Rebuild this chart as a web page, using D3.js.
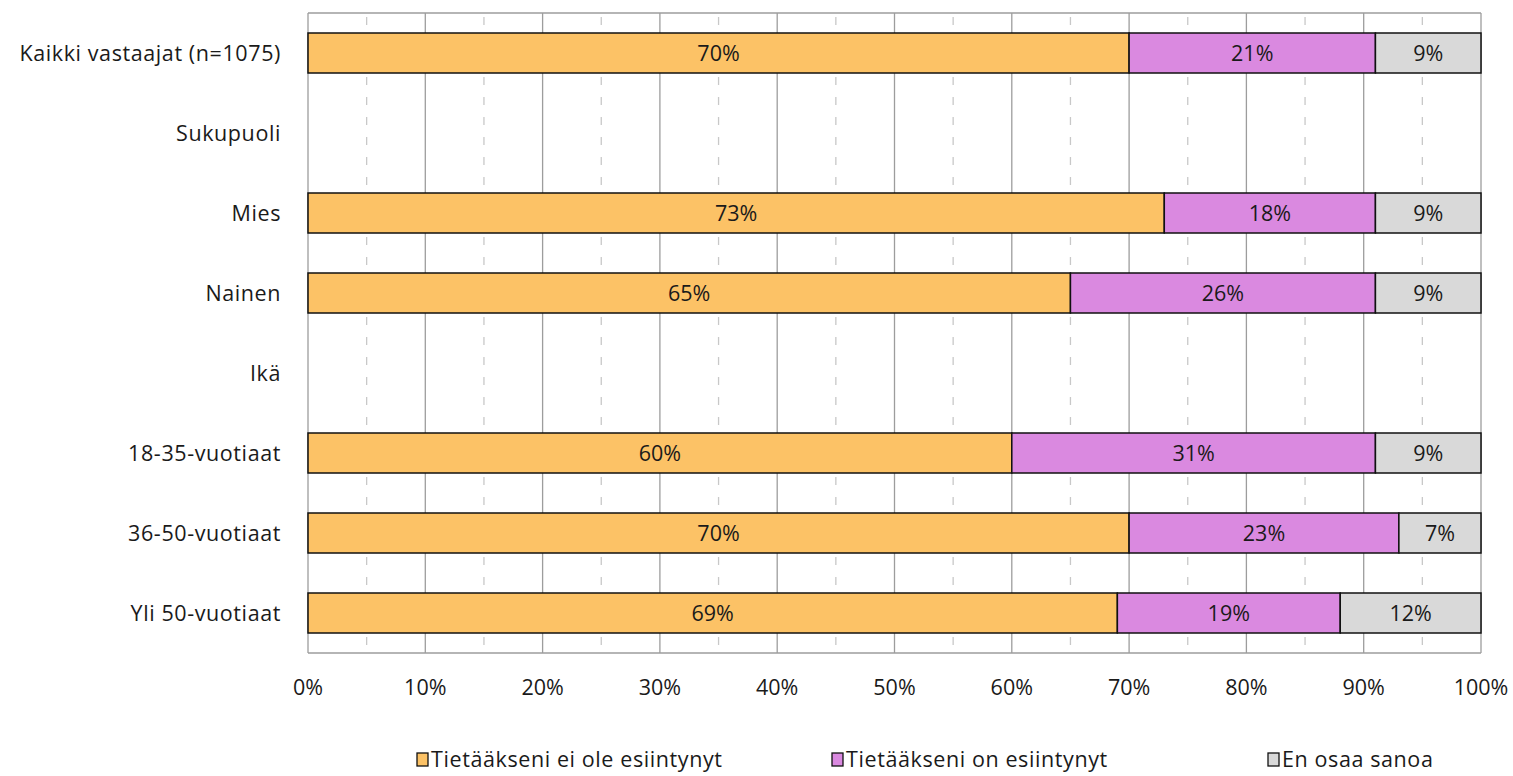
<!DOCTYPE html>
<html><head><meta charset="utf-8">
<script src="https://cdn.jsdelivr.net/npm/d3@7"></script>
<style>body{margin:0;background:#fff}svg{display:block}text{font-family:"Open Sans",sans-serif;fill:#1a1a1a}</style>
</head><body><svg id="c" width="1513" height="776"></svg>
<script>
const categories = ["Kaikki vastaajat (n=1075)","Sukupuoli","Mies","Nainen","Ikä","18-35-vuotiaat","36-50-vuotiaat","Yli 50-vuotiaat"];
const seriesNames = ["Tietääkseni ei ole esiintynyt","Tietääkseni on esiintynyt","En osaa sanoa"];
const eiOle = [70,null,73,65,null,60,70,69];
const onEsi = [21,null,18,26,null,31,23,19];
const enOsaa = [9,null,9,9,null,9,7,12];
const colors = ["#FCC266","#DA89E0","#D9D9D9"];
const xTicks = [0,10,20,30,40,50,60,70,80,90,100];

const svg = d3.select("#c");
const FS = 21.5;
const LS = "0.6px";
const L=308,R=1481,T=13,B=653;
const x = d3.scaleLinear().domain([0,100]).range([L,R]);
const y = d3.scaleBand().domain(categories).range([T,B]).paddingInner(0.5).paddingOuter(0.25);

svg.append("g").selectAll("line").data(d3.range(5,100,10)).join("line")
  .attr("x1",d=>x(d)).attr("x2",d=>x(d)).attr("y1",T).attr("y2",B)
  .attr("stroke","#c8c8c8").attr("stroke-width",1.3).attr("stroke-dasharray","8,12")
  .attr("stroke-dashoffset",-4);
svg.append("g").selectAll("line").data(xTicks).join("line")
  .attr("x1",d=>x(d)).attr("x2",d=>x(d)).attr("y1",T).attr("y2",B)
  .attr("stroke","#9d9d9d").attr("stroke-width",1.3);
svg.append("line").attr("x1",L).attr("x2",R).attr("y1",T).attr("y2",T).attr("stroke","#9d9d9d").attr("stroke-width",1.3);
svg.append("line").attr("x1",L).attr("x2",R).attr("y1",B).attr("y2",B).attr("stroke","#9d9d9d").attr("stroke-width",1.3);

const series=[eiOle,onEsi,enOsaa];
categories.forEach((c,i)=>{
  let acc=0;
  series.forEach((s,k)=>{
    const v=s[i]; if(v==null) return;
    const x0=acc, x1=acc+v; acc=x1;
    svg.append("rect").attr("x",x(x0)).attr("y",y(c)).attr("width",x(x1)-x(x0)).attr("height",y.bandwidth())
      .attr("fill",colors[k]).attr("stroke","#111").attr("stroke-width",1.5);
    svg.append("text").attr("x",(x(x0)+x(x1))/2).attr("y",y(c)+y.bandwidth()/2+7.5)
      .attr("text-anchor","middle").attr("font-size",FS).text(v+"%");
  });
});

svg.append("g").selectAll("text").data(categories).join("text")
  .attr("x",281).attr("y",d=>y(d)+y.bandwidth()/2+7.5).attr("text-anchor","end")
  .attr("font-size",FS).attr("letter-spacing",LS).text(d=>d);
svg.append("g").selectAll("text").data(xTicks).join("text")
  .attr("x",d=>x(d)).attr("y",695).attr("text-anchor","middle").attr("font-size",FS).text(d=>d+"%");

const lx=[417,832,1268];
seriesNames.forEach((n,k)=>{
  svg.append("rect").attr("x",lx[k]).attr("y",753).attr("width",11).attr("height",13)
    .attr("fill",colors[k]).attr("stroke","#111").attr("stroke-width",1.3);
  svg.append("text").attr("x",lx[k]+14).attr("y",767).attr("font-size",FS).attr("letter-spacing",LS).text(n);
});
</script></body></html>
